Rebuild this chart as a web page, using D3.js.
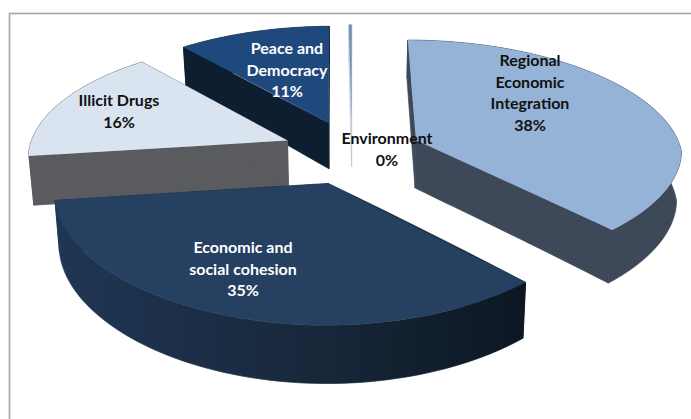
<!DOCTYPE html>
<html>
<head>
<meta charset="utf-8">
<script src="https://cdn.jsdelivr.net/npm/d3@7"></script>
<style>
html,body{margin:0;padding:0;background:#fff;}
svg{display:block;}
text{font-family:Lato,"Open Sans",sans-serif;font-weight:700;font-size:16px;text-anchor:middle;dominant-baseline:middle;}
</style>
</head>
<body>
<svg id="chart" width="691" height="419"></svg>
<script>
// Programme shares, in percent, clockwise from twelve o'clock
const categories = ["Regional Economic Integration","Economic and social cohesion","Illicit Drugs","Peace and Democracy","Environment"];
const shares = [38,35,16,11,0.2];
const topColors = ["#95b3d7","#254061","#dae4f0","#1f497d","#6d8db5"];
const sideColors = ["#3d4959","#1a2e47","#595b5e","#0d1e30","#c4ccd6"];
const labelLines = [["Regional","Economic","Integration"],["Economic and","social cohesion"],["Illicit Drugs"],["Peace and","Democracy"],["Environment"]];
const labelColors = ["#111","#fff","#111","#fff","#111"];
const labelCentres = [[530,62],[243,249],[119,102],[287,50],[387,140]];
const lineStep = 21.5;

const W = 691, H = 419;
const svg = d3.select("#chart");

// Chart area border, open on the right and at the bottom
svg.append("rect").attr("x",9.5).attr("y",13.5).attr("width",W).attr("height",H)
  .attr("fill","#fff").attr("stroke","#a6a6a6").attr("stroke-width",1.6);

// Ground-plane perspective for the tilted pie
const cx = 352, cy = 152, kY = 0.46;
const Rx = 270, Ry = 251, explodeX = 70, explodeY = 70;
const rimScale = [0.985,0.99,0.96,1,1];
const farPerspective = [0.0006,0.0007,0.0005,0.0007,0.0007];
const sx = (Y,i) => 1/(1 - (Y<0 ? farPerspective[i] : 0.0003)*Y);
const sy = Y => 1/(1 - 0.0005*Y);
const xOf = d3.scaleLinear().domain([-1,1]).range([-Rx,Rx]);
const yOf = d3.scaleLinear().domain([-1,1]).range([-Ry,Ry]);

function project(X,Y,i,lower){
  const px = cx + X*sx(Y,i), py = cy + kY*Y*sy(Y);
  if(!lower) return [px,py];
  const depth = 49*(Y<0 ? sy(Y)*sy(Y) : sy(Y));
  return [cx + (px-cx)*0.985, py+depth];
}

const arcs = d3.pie().sort(null).value(d=>d)(shares);
const line = d3.line();
const total = d3.sum(shares);

// Gradient along the rim of the front slice
const grad = svg.append("defs").append("linearGradient").attr("id","frontRim")
  .attr("gradientUnits","userSpaceOnUse").attr("x1",55).attr("x2",527).attr("y1",0).attr("y2",0);
grad.append("stop").attr("offset",0).attr("stop-color","#1f3654");
grad.append("stop").attr("offset",0.5).attr("stop-color","#19293d");
grad.append("stop").attr("offset",1).attr("stop-color","#0c1722");

function wedge(a,i){
  const mid = (a.startAngle+a.endAngle)/2;
  const ox = Math.sin(mid)*explodeX, oy = -Math.cos(mid)*explodeY;
  const angles = d3.range(0,61).map(n=>a.startAngle+(a.endAngle-a.startAngle)*n/60);
  const rim = angles.map(t=>[ox+xOf(Math.sin(t))*rimScale[i], oy+yOf(-Math.cos(t))]);
  return {apex:[ox,oy],rim};
}

// Paint far slices first so the nearer ones overlap them
const order = [4,3,2,0,1];
const g = svg.append("g");
order.forEach(i=>{
  const w = wedge(arcs[i],i);
  const up = p=>project(p[0],p[1],i,false), lo = p=>project(p[0],p[1],i,true);
  const first = w.rim[0], last = w.rim[w.rim.length-1];
  const wall = i===1 ? "url(#frontRim)" : sideColors[i];
  // Cut faces
  [first,last].forEach(c=>{
    const steps = d3.range(0,21).map(n=>[w.apex[0]+(c[0]-w.apex[0])*n/20, w.apex[1]+(c[1]-w.apex[1])*n/20]);
    const face = steps.map(up).concat(steps.slice().reverse().map(lo));
    g.append("path").attr("d",line(face)+"Z").attr("fill",wall).attr("stroke",wall).attr("stroke-width",0.7);
  });
  // Outer wall
  const wallPts = w.rim.map(up).concat(w.rim.slice().reverse().map(lo));
  g.append("path").attr("d",line(wallPts)+"Z").attr("fill",wall).attr("stroke",wall).attr("stroke-width",0.7);
  // Top surface
  const top = [w.apex].concat(w.rim).map(up);
  g.append("path").attr("class","slice").attr("d",line(top)+"Z").attr("fill",topColors[i]);
});

// Category and percentage labels
categories.forEach((c,i)=>{
  const lines = labelLines[i].concat(Math.round(shares[i]/total*100)+"%");
  const t = svg.append("text").attr("fill",labelColors[i]);
  lines.forEach((s,n)=>{
    t.append("tspan").attr("x",labelCentres[i][0]).attr("y",labelCentres[i][1]+n*lineStep).text(s);
  });
});
</script>
</body>
</html>
